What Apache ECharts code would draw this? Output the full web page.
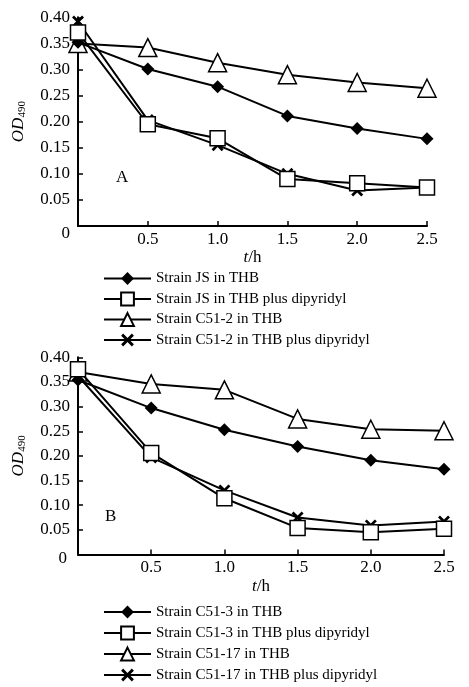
<!DOCTYPE html>
<html>
<head>
<meta charset="utf-8">
<script src="https://cdn.jsdelivr.net/npm/echarts@6/dist/echarts.min.js"></script>
<style>html,body{margin:0;padding:0;background:#fff;}#c{width:469px;height:687px;}</style>
</head>
<body>
<div id="c"></div>
<script>
// Data
const times = [0, 0.5, 1.0, 1.5, 2.0, 2.5];
const yTicks = [0, 0.05, 0.10, 0.15, 0.20, 0.25, 0.30, 0.35, 0.40];
// Panel A
const namesA = ['Strain JS in THB', 'Strain JS in THB plus dipyridyl', 'Strain C51-2 in THB', 'Strain C51-2 in THB plus dipyridyl'];
const jsTHB = [0.352, 0.301, 0.267, 0.211, 0.187, 0.167];
const jsDip = [0.371, 0.195, 0.168, 0.090, 0.082, 0.074];
const c512THB = [0.350, 0.342, 0.313, 0.290, 0.275, 0.264];
const c512Dip = [0.392, 0.203, 0.155, 0.100, 0.068, 0.074];
// Panel B
const namesB = ['Strain C51-3 in THB', 'Strain C51-3 in THB plus dipyridyl', 'Strain C51-17 in THB', 'Strain C51-17 in THB plus dipyridyl'];
const c513THB = [0.354, 0.297, 0.253, 0.219, 0.191, 0.173];
const c513Dip = [0.376, 0.206, 0.114, 0.054, 0.045, 0.052];
const c5117THB = [0.370, 0.346, 0.334, 0.275, 0.254, 0.251];
const c5117Dip = [0.362, 0.197, 0.130, 0.075, 0.059, 0.067];
const panelLabels = ['A', 'B'];

const FONT = '"Liberation Serif", "DejaVu Serif", serif';
const crossPath = 'path://M0,1.6L1.6,0L5,3.4L8.4,0L10,1.6L6.6,5L10,8.4L8.4,10L5,6.6L1.6,10L0,8.4L3.4,5Z';
const markers = [
  {symbol: 'diamond', size: 13, fill: '#000', z: 4},
  {symbol: 'rect', size: 15, fill: '#fff', z: 5},
  {symbol: 'triangle', size: 18, fill: '#fff', z: 2},
  {symbol: crossPath, size: 12, fill: '#000', z: 3}
];
function pairs(arr) { return times.map((t, i) => [t, arr[i]]); }

function mkSeries(names, arrs, idx) {
  return names.map((n, k) => ({
    name: n, type: 'line', xAxisIndex: idx, yAxisIndex: idx,
    data: pairs(arrs[k]),
    symbol: markers[k].symbol, symbolSize: markers[k].size,
    z: markers[k].z,
    lineStyle: {color: '#000', width: 2},
    itemStyle: {color: markers[k].fill, borderColor: '#000', borderWidth: (k === 3 || k === 0) ? 0 : 1.5},
    emphasis: {disabled: true},
    animation: false
  }));
}

function xAx(idx, gap) {
  return {
    type: 'value', gridIndex: idx, min: 0, max: 2.5, interval: 0.5,
    name: '{i|t}{n|/h}', nameLocation: 'middle', nameGap: gap,
    nameTextStyle: {rich: {i: {fontFamily: FONT, fontStyle: 'italic', fontSize: 17, color: '#000'}, n: {fontFamily: FONT, fontSize: 17, color: '#000'}}},
    axisLine: {lineStyle: {color: '#000', width: 2}},
    axisTick: {inside: true, length: 5, lineStyle: {color: '#000', width: 1.5}},
    axisLabel: {margin: 5, fontFamily: FONT, fontSize: 17, color: '#000',
      formatter: v => v === 0 ? '' : v.toFixed(1)},
    splitLine: {show: false}
  };
}
function yAx(idx, zpad, zright) {
  return {
    type: 'value', gridIndex: idx, min: yTicks[0], max: yTicks[yTicks.length - 1], interval: 0.05,
    name: '{i|OD}{s|490}', nameLocation: 'middle', nameGap: 50, nameRotate: 90,
    nameTextStyle: {rich: {i: {fontFamily: FONT, fontStyle: 'italic', fontSize: 17, color: '#000'}, s: {fontFamily: FONT, fontSize: 11, color: '#000', padding: [8, 0, 0, 0]}}},
    axisLine: {show: true, lineStyle: {color: '#000', width: 2}},
    axisTick: {show: true, inside: true, length: 5, lineStyle: {color: '#000', width: 1.5}},
    axisLabel: {margin: 8, fontFamily: FONT, fontSize: 17, color: '#000',
      formatter: v => Math.abs(v) < 1e-9 ? '{z|0}' : v.toFixed(2),
      rich: {z: {fontFamily: FONT, fontSize: 17, color: '#000', padding: [zpad, zright, 0, 0]}}},
    splitLine: {show: false}
  };
}
function legend(names, top, gap) {
  return {
    data: names, orient: 'vertical', left: 103, top: top, itemWidth: 47, itemHeight: 16, itemGap: gap,
    padding: 0, selectedMode: false,
    textStyle: {fontFamily: FONT, fontSize: 15, color: '#000'}
  };
}

const chart = echarts.init(document.getElementById('c'), null, {renderer: 'canvas'});
chart.setOption({
  backgroundColor: '#fff',
  animation: false,
  title: [
    {text: panelLabels[0], left: 116, top: 169, padding: 0, textStyle: {fontFamily: FONT, fontSize: 17, fontWeight: 'normal', color: '#000'}},
    {text: panelLabels[1], left: 105, top: 508, padding: 0, textStyle: {fontFamily: FONT, fontSize: 17, fontWeight: 'normal', color: '#000'}}
  ],
  grid: [
    {left: 78, right: 42, top: 17.3, bottom: 461, containLabel: false},
    {left: 78, right: 25, top: 357.3, bottom: 132.5, containLabel: false}
  ],
  xAxis: [xAx(0, 22), xAx(1, 24)],
  yAxis: [yAx(0, 16, 0), yAx(1, 8, 3)],
  legend: [legend(namesA, 271, 5.5), legend(namesB, 604.5, 6)],
  series: [].concat(
    mkSeries(namesA, [jsTHB, jsDip, c512THB, c512Dip], 0),
    mkSeries(namesB, [c513THB, c513Dip, c5117THB, c5117Dip], 1)
  )
});
</script>
</body>
</html>
